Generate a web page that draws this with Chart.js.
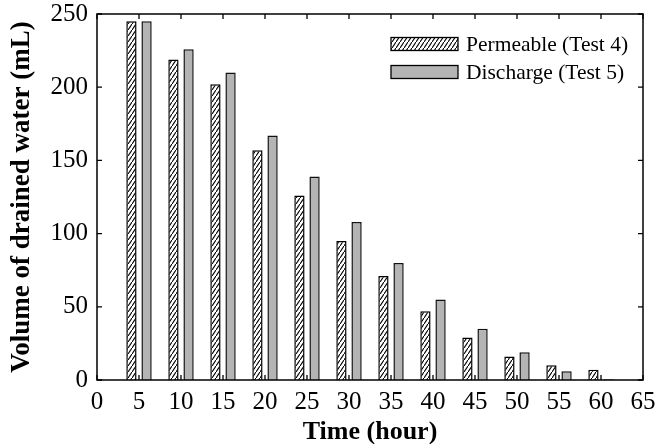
<!DOCTYPE html>
<html>
<head>
<meta charset="utf-8">
<script src="https://cdn.jsdelivr.net/npm/chart.js@4.4.1/dist/chart.umd.min.js"></script>
<style>
  html, body { margin: 0; padding: 0; background: #fff; }
  #wrap { width: 655px; height: 444px; }
</style>
</head>
<body>
<div id="wrap"><canvas id="chart" width="655" height="444"></canvas></div>
<script>
// time (hour) of each reading
const hours = [5, 10, 15, 20, 25, 30, 35, 40, 45, 50, 55, 60];
// volume of drained water (mL)
const permeableTest4 = [245, 219, 202, 157, 126, 95, 71, 47, 29, 16, 10, 7];
const dischargeTest5 = [245, 226, 210, 167, 139, 108, 80, 55, 35, 19, 6, 0.5];

const seriesLabels = ["Permeable (Test 4)", "Discharge (Test 5)"];
const xTicks = [0, 65, 5];   // min, max, step
const yTicks = [0, 250, 50];

const SERIF = "'Liberation Serif', 'Times New Roman', serif";
const GREY = "#b4b4b4";

// steep "/" hatching like the original figure
function makeHatch() {
    const w = 4, h = 6;
    const c = document.createElement("canvas");
    c.width = w;
    c.height = h;
    const g = c.getContext("2d");
    g.fillStyle = "#fff";
    g.fillRect(0, 0, w, h);
    g.strokeStyle = "#000";
    g.lineWidth = 1.1;
    g.beginPath();
    g.moveTo(-w, 2 * h);
    g.lineTo(2 * w, -h);
    g.stroke();
    return g.createPattern(c, "repeat");
}
const hatch = makeHatch();

// frame round the plot with inward ticks on all four sides
const framePlugin = {
    id: "frame",
    afterDatasetsDraw(chart) {
        const { ctx, chartArea: a, scales: { x, y } } = chart;
        const len = 5;
        ctx.save();
        ctx.strokeStyle = "#000";
        ctx.lineWidth = 1.3;
        ctx.beginPath();
        x.ticks.forEach(t => {
            const px = x.getPixelForValue(t.value);
            ctx.moveTo(px, a.bottom); ctx.lineTo(px, a.bottom - len);
            ctx.moveTo(px, a.top); ctx.lineTo(px, a.top + len);
        });
        y.ticks.forEach(t => {
            const py = y.getPixelForValue(t.value);
            ctx.moveTo(a.left, py); ctx.lineTo(a.left + len, py);
            ctx.moveTo(a.right, py); ctx.lineTo(a.right - len, py);
        });
        ctx.stroke();
        ctx.lineWidth = 1.5;
        ctx.strokeRect(a.left, a.top, a.right - a.left, a.bottom - a.top);
        ctx.restore();
    }
};

// legend in the upper right corner of the plot
const legendPlugin = {
    id: "boxLegend",
    afterDraw(chart) {
        const { ctx, chartArea: a } = chart;
        const boxW = 67, boxH = 13;
        const bx = a.left + 294;
        const rows = [a.top + 30, a.top + 58];
        ctx.save();
        ctx.font = "21.5px " + SERIF;
        ctx.textBaseline = "middle";
        ctx.fillStyle = "#000";
        chart.data.datasets.forEach((ds, i) => {
            const cy = rows[i];
            ctx.fillStyle = ds.backgroundColor;
            ctx.fillRect(bx, cy - boxH / 2, boxW, boxH);
            ctx.strokeStyle = "#000";
            ctx.lineWidth = 1.3;
            ctx.strokeRect(bx, cy - boxH / 2, boxW, boxH);
            ctx.fillStyle = "#000";
            ctx.fillText(ds.label, bx + boxW + 8, cy + 1);
        });
        ctx.restore();
    }
};

const pts = vals => hours.map((h, i) => ({ x: h, y: vals[i] }));

new Chart(document.getElementById("chart"), {
    type: "bar",
    data: {
        datasets: [
            {
                label: seriesLabels[0],
                data: pts(permeableTest4),
                backgroundColor: hatch,
                borderColor: "#000",
                borderWidth: 1.5,
                categoryPercentage: 0.72,
                barPercentage: 0.68
            },
            {
                label: seriesLabels[1],
                data: pts(dischargeTest5),
                backgroundColor: GREY,
                borderColor: "#111",
                borderWidth: 1.5,
                categoryPercentage: 0.72,
                barPercentage: 0.68
            }
        ]
    },
    options: {
        responsive: false,
        animation: false,
        layout: { padding: { left: 0, right: 12, top: 14, bottom: 0 } },
        plugins: { legend: { display: false }, tooltip: { enabled: false } },
        scales: {
            x: {
                type: "linear",
                offset: false,
                min: xTicks[0],
                max: xTicks[1],
                grid: { display: false, drawTicks: false },
                border: { display: false },
                ticks: {
                    stepSize: xTicks[2],
                    maxRotation: 0,
                    autoSkip: false,
                    padding: 7,
                    color: "#000",
                    font: { family: SERIF, size: 25 }
                },
                title: {
                    display: true,
                    text: "Time (hour)",
                    color: "#000",
                    padding: { top: 0, bottom: -4 },
                    font: { family: SERIF, size: 26, weight: "bold" }
                },
                afterFit(s) {
                    s.height = 64;
                    s.paddingLeft = 0;
                    s.paddingRight = 0;
                }
            },
            y: {
                min: yTicks[0],
                max: yTicks[1],
                grid: { display: false, drawTicks: false },
                border: { display: false },
                ticks: {
                    stepSize: yTicks[2],
                    padding: 9,
                    color: "#000",
                    font: { family: SERIF, size: 25 }
                },
                title: {
                    display: true,
                    text: "Volume of drained water (mL)",
                    color: "#000",
                    padding: { top: 6, bottom: 0 },
                    font: { family: SERIF, size: 27, weight: "bold" }
                },
                afterFit(s) {
                    s.width = 97;
                    s.paddingTop = 0;
                    s.paddingBottom = 0;
                }
            }
        }
    },
    plugins: [framePlugin, legendPlugin]
});
</script>
</body>
</html>
